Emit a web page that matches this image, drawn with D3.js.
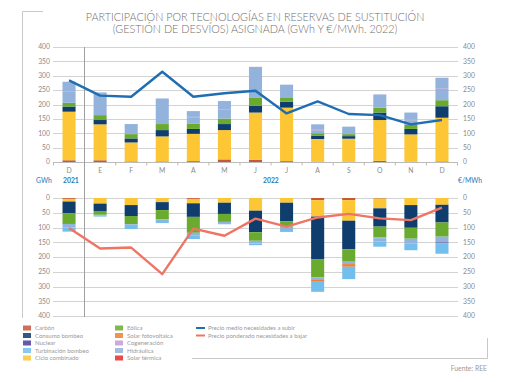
<!DOCTYPE html>
<html><head><meta charset="utf-8">
<script src="https://cdn.jsdelivr.net/npm/d3@7"></script>
<style>
body{margin:0;background:#fff}
text{font-family:Lato,"Open Sans",sans-serif}
</style>
</head><body>
<svg id="c" width="510" height="382"></svg>
<script>
// ---------- DATA ----------
const months = ["D","E","F","M","A","M","J","J","A","S","O","N","D"];
const yTicks = [0,50,100,150,200,250,300,350,400];

// Upper chart: reservas a subir (GWh)
const upCarbon      = [6,6,2,2,3,9,8,3,1,1,4,1,2];
const upCiclo       = [169,125,66,87,95,102,164,186,79,80,142,95,152];
const upConsumo     = [18,15,14,22,17,21,24,21,12,9,26,19,40];
const upEolica      = [13,17,15,21,19,19,27,15,8,7,17,14,21];
const upHidraulica  = [38,79,35,89,21,30,108,44,10,26,7,16,39];
const upCogen       = [2,0,0,0,2,2,0,0,2,0,2,2,2];
const upTurbinacion = [33,0,0,0,20,29,0,0,19,0,37,25,37];

// Lower chart: reservas a bajar (GWh)
const dnCarbon      = [3,0,0,0,3,0,0,0,7,7,2,0,0];
const dnCiclo       = [9,19,24,14,15,16,43,16,56,70,33,24,23];
const dnConsumo     = [40,25,37,27,46,38,73,63,144,97,62,77,60];
const dnEolica      = [36,13,28,31,54,27,29,18,62,42,37,37,48];
const dnHidraulica  = [12,3,6,6,10,4,9,8,9,8,12,17,20];
const dnCogen       = [0,0,0,0,0,0,0,0,0,0,2,0,0];
const dnSolarFV     = [0,0,0,0,0,0,0,0,6,9,0,0,0];
const dnNuclear     = [0,0,0,0,0,0,0,0,0,0,0,0,2];
const dnTurbinacion = [14,3,10,7,11,4,6,10,34,42,17,22,36];

// Prices (€/MWh)
const precioSubir = [284,231,227,314,227,239,248,169,211,167,163,131,146];
const precioBajar = [102,171,168,258,104,128,70,97,66,54,69,75,33];

// ---------- STYLE ----------
const color = {
  "Carbón":"#c5573a","Consumo bombeo":"#0f3d6d","Nuclear":"#4b3c9c",
  "Turbinación bombeo":"#72bfee","Ciclo combinado":"#fdc634",
  "Eólica":"#6aab2f","Solar fotovoltaica":"#f07f2e","Cogeneración":"#c39bd3",
  "Hidráulica":"#93b2dc","Solar térmica":"#e52b2b"
};
const colorTop = Object.assign({}, color, {"Turbinación bombeo":color["Hidráulica"], "Cogeneración":"#b98db8"});
const gridC = "#d3d3d3", txtC = "#8a8a8a", blueT = "#2b78b8";

const svg = d3.select("#c");

// Frame decoration
svg.append("path").attr("d","M43,11.5H22.5V318").attr("fill","none").attr("stroke","#c8c8c8").attr("stroke-width",1);
svg.append("path").attr("d","M192,358.5H487.5V338").attr("fill","none").attr("stroke","#c8c8c8").attr("stroke-width",1);

// Title
svg.append("text").attr("x",255).attr("y",20.5).attr("text-anchor","middle")
  .attr("font-size",10.8).attr("fill","#707070").attr("font-weight",300)
  .text("PARTICIPACIÓN POR TECNOLOGÍAS EN RESERVAS DE SUSTITUCIÓN");
svg.append("text").attr("x",255).attr("y",33).attr("text-anchor","middle")
  .attr("font-size",10.8).attr("fill","#707070").attr("font-weight",300)
  .text("(GESTIÓN DE DESVÍOS) ASIGNADA (GWh Y €/MWh. 2022)");

const idx = months.map((m,i)=>i);
const x = d3.scaleBand().domain(idx).range([53.5,457.5]).paddingInner(0.58).paddingOuter(0.29);
const xc = i => x(i) + x.bandwidth()/2;

const yTop = d3.scaleLinear().domain([0,400]).range([162,47]);
const yBot = d3.scaleLinear().domain([0,400]).range([198,316]);

function grid(y){
  const g = svg.append("g");
  g.selectAll("line").data(yTicks).join("line")
    .attr("x1",53).attr("x2",458)
    .attr("y1",d=>Math.round(y(d))+0.5).attr("y2",d=>Math.round(y(d))+0.5)
    .attr("stroke",gridC).attr("stroke-width",1);
  g.selectAll("text.l").data(yTicks).join("text").attr("class","l")
    .attr("x",50).attr("y",d=>y(d)+2.3).attr("text-anchor","end")
    .attr("font-size",6.8).attr("fill",txtC).text(d=>d);
  g.selectAll("text.r").data(yTicks).join("text").attr("class","r")
    .attr("x",463).attr("y",d=>y(d)+2.3).attr("text-anchor","start")
    .attr("font-size",6.8).attr("fill",txtC).text(d=>d);
}
grid(yTop); grid(yBot);

// top x-axis
const xAxis = svg.append("g").attr("transform","translate(0,162.5)");
xAxis.append("line").attr("x1",53).attr("x2",458).attr("stroke","#bbb");
xAxis.selectAll("line.t").data(d3.range(14)).join("line").attr("class","t")
  .attr("x1",i=>53.5+i*31.08).attr("x2",i=>53.5+i*31.08).attr("y1",0).attr("y2",3).attr("stroke","#bbb");
xAxis.selectAll("text").data(idx).join("text")
  .attr("x",xc).attr("y",10.5).attr("text-anchor","middle")
  .attr("font-size",6.8).attr("fill",txtC).text(i=>months[i]);

// year separator
svg.append("line").attr("x1",84.5).attr("x2",84.5).attr("y1",47).attr("y2",317).attr("stroke","#a0a0a0").attr("stroke-width",1);

// unit / year labels
svg.append("text").attr("x",36).attr("y",182.5).attr("font-size",6.8).attr("fill",blueT).text("GWh");
svg.append("text").attr("x",63).attr("y",182.5).attr("font-size",6.8).attr("font-weight",700).attr("fill",blueT).text("2021");
svg.append("text").attr("x",263).attr("y",182.5).attr("font-size",6.8).attr("font-weight",700).attr("fill",blueT).text("2022");
svg.append("text").attr("x",458).attr("y",182.5).attr("font-size",6.8).attr("fill",blueT).text("€/MWh");

// ---------- STACKS ----------
const upKeys = ["Carbón","Ciclo combinado","Consumo bombeo","Eólica","Hidráulica","Cogeneración","Turbinación bombeo"];
const upArr  = [upCarbon,upCiclo,upConsumo,upEolica,upHidraulica,upCogen,upTurbinacion];
const upRows = idx.map(i=>{const o={i}; upKeys.forEach((k,j)=>o[k]=upArr[j][i]); return o;});
const upStack = d3.stack().keys(upKeys)(upRows);

svg.append("g").selectAll("g").data(upStack).join("g")
  .attr("fill",s=>colorTop[s.key])
  .selectAll("rect").data(s=>s).join("rect")
  .attr("x",d=>x(d.data.i)).attr("width",x.bandwidth())
  .attr("y",d=>yTop(d[1])).attr("height",d=>yTop(d[0])-yTop(d[1]));

const dnKeys = ["Carbón","Ciclo combinado","Consumo bombeo","Eólica","Cogeneración","Hidráulica","Solar fotovoltaica","Nuclear","Turbinación bombeo"];
const dnArr  = [dnCarbon,dnCiclo,dnConsumo,dnEolica,dnCogen,dnHidraulica,dnSolarFV,dnNuclear,dnTurbinacion];
const dnRows = idx.map(i=>{const o={i}; dnKeys.forEach((k,j)=>o[k]=dnArr[j][i]); return o;});
const dnStack = d3.stack().keys(dnKeys)(dnRows);

svg.append("g").selectAll("g").data(dnStack).join("g")
  .attr("fill",s=>color[s.key])
  .selectAll("rect").data(s=>s).join("rect")
  .attr("x",d=>x(d.data.i)).attr("width",x.bandwidth())
  .attr("y",d=>yBot(d[0])).attr("height",d=>yBot(d[1])-yBot(d[0]));

// ---------- LINES ----------
svg.append("path").datum(precioSubir)
  .attr("d",d3.line().x((d,i)=>xc(i)).y(d=>yTop(d)))
  .attr("fill","none").attr("stroke","#1f6db3").attr("stroke-width",2.4).attr("stroke-linejoin","round");
svg.append("path").datum(precioBajar)
  .attr("d",d3.line().x((d,i)=>xc(i)).y(d=>yBot(d)))
  .attr("fill","none").attr("stroke","#ef7463").attr("stroke-width",2.4).attr("stroke-linejoin","round");

// ---------- LEGEND ----------
const leg1 = ["Carbón","Consumo bombeo","Nuclear","Turbinación bombeo","Ciclo combinado"];
const leg2 = ["Eólica","Solar fotovoltaica","Cogeneración","Hidráulica","Solar térmica"];
const legY = i => 328 + i*7.5;
function legCol(items, sx, tx){
  const g = svg.append("g");
  g.selectAll("rect").data(items).join("rect")
    .attr("x",sx).attr("y",(d,i)=>legY(i)-2.5).attr("width",8).attr("height",5)
    .attr("fill",d=>color[d]).attr("opacity",0.85);
  g.selectAll("text").data(items).join("text")
    .attr("x",tx).attr("y",(d,i)=>legY(i)+2.2)
    .attr("font-size",6).attr("fill","#999").text(d=>d);
}
legCol(leg1,23,35);
legCol(leg2,115,127);
const legL = [["Precio medio necesidades a subir","#1f6db3"],["Precio ponderado necesidades a bajar","#ef7463"]];
legL.forEach((d,i)=>{
  svg.append("line").attr("x1",196).attr("x2",205).attr("y1",legY(i)).attr("y2",legY(i))
    .attr("stroke",d[1]).attr("stroke-width",2);
  svg.append("text").attr("x",208).attr("y",legY(i)+2.2).attr("font-size",6).attr("fill","#999").text(d[0]);
});

svg.append("text").attr("x",487).attr("y",370.5).attr("text-anchor","end")
  .attr("font-size",6.8).attr("fill","#999").text("Fuente: REE");
</script>
</body></html>
